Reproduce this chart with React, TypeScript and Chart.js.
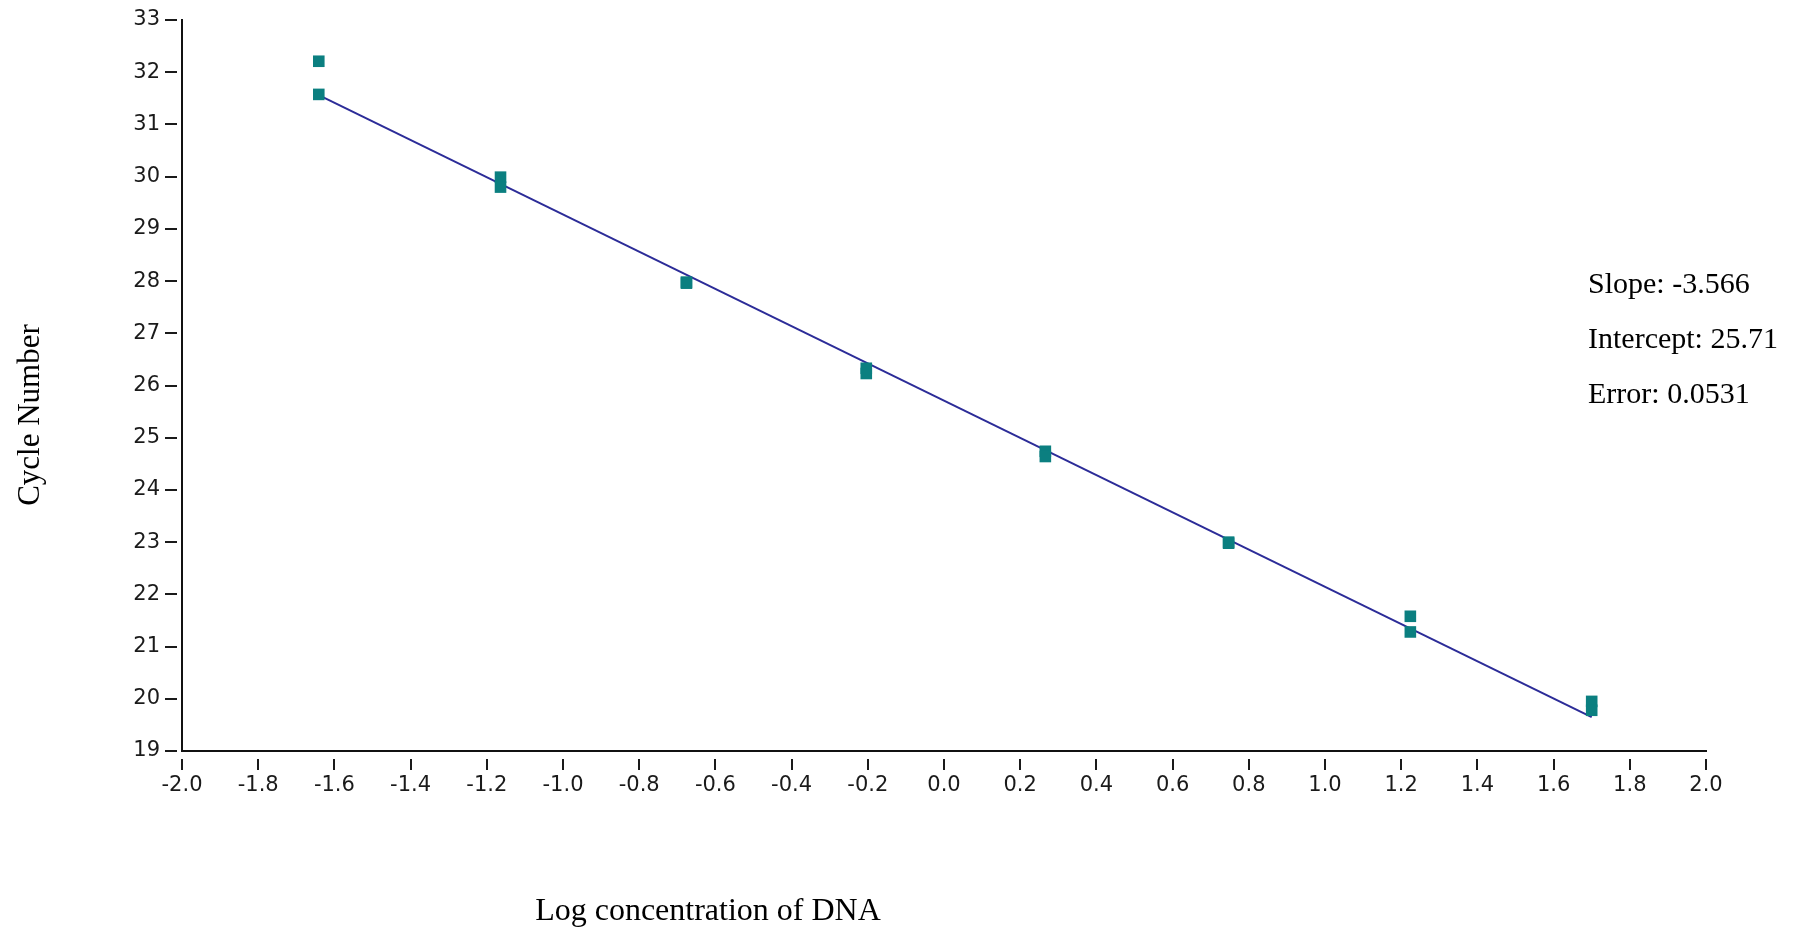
import React, { useEffect, useRef } from "react";
import { Chart, registerables } from "chart.js";

Chart.register(...registerables);

// Log concentration of DNA (x) and cycle number (y) for each replicate
const logConc: number[] = [
  -1.641, -1.641, -1.164, -1.164, -0.676, -0.676, -0.204, -0.204,
  0.266, 0.266, 0.747, 0.747, 1.224, 1.224, 1.7, 1.7,
];
const cycleNumber: number[] = [
  32.21, 31.575, 29.99, 29.8, 27.98, 27.96, 26.33, 26.23,
  24.74, 24.64, 23.0, 22.98, 21.58, 21.28, 19.95, 19.78,
];
// Regression line end points
const fitX: number[] = [-1.641, 1.7];
const fitY: number[] = [31.56, 19.65];

const xMin = -2.0;
const xMax = 2.0;
const xStep = 0.2;
const yMin = 19;
const yMax = 33;
const yStep = 1;

const statLines: string[] = ["Slope: -3.566", "Intercept: 25.71", "Error: 0.0531"];
const xTitle = "Log concentration of DNA";
const yTitle = "Cycle Number";

const W = 1807;
const H = 929;

const overlayPlugin = {
  id: "overlay",
  afterDraw(chart: any) {
    const { ctx, chartArea } = chart;
    const xs = chart.scales.x;
    const ys = chart.scales.y;
    ctx.save();
    // tick marks (separated from the axes)
    ctx.strokeStyle = "#1a1a1a";
    ctx.lineWidth = 2;
    ctx.beginPath();
    ys.ticks.forEach((t: any) => {
      const py = Math.round(ys.getPixelForValue(t.value));
      ctx.moveTo(chartArea.left - 17, py);
      ctx.lineTo(chartArea.left - 5, py);
    });
    xs.ticks.forEach((t: any) => {
      const px = Math.round(xs.getPixelForValue(t.value));
      ctx.moveTo(px, chartArea.bottom + 8);
      ctx.lineTo(px, chartArea.bottom + 19);
    });
    ctx.stroke();

    // statistics text
    ctx.fillStyle = "#000";
    ctx.font = '30px "Liberation Serif", "Times New Roman", serif';
    ctx.textAlign = "left";
    ctx.textBaseline = "alphabetic";
    statLines.forEach((s, i) => {
      ctx.fillText(s, 1588, 293 + i * 55);
    });

    // x axis title
    ctx.font = '32px "Liberation Serif", "Times New Roman", serif';
    ctx.textAlign = "center";
    ctx.fillText(xTitle, 708, 920);

    // y axis title
    ctx.font = '31px "Liberation Serif", "Times New Roman", serif';
    ctx.translate(31, 415);
    ctx.rotate(-Math.PI / 2);
    ctx.textBaseline = "middle";
    ctx.fillText(yTitle, 0, 0);
    ctx.restore();
  },
};

export default function App() {
  const ref = useRef<HTMLCanvasElement | null>(null);

  useEffect(() => {
    if (!ref.current) return;
    const points = logConc.map((x, i) => ({ x, y: cycleNumber[i] }));
    const line = fitX.map((x, i) => ({ x, y: fitY[i] }));
    const chart = new Chart(ref.current, {
      type: "scatter",
      data: {
        datasets: [
          {
            label: "Samples",
            data: points,
            pointStyle: "rect",
            pointRadius: 8.2,
            pointHoverRadius: 8.2,
            backgroundColor: "#0b7f80",
            borderColor: "#0b7f80",
            borderWidth: 0,
            showLine: false,
          },
          {
            label: "Fit",
            data: line,
            showLine: true,
            pointRadius: 0,
            borderColor: "#2c2c98",
            borderWidth: 2,
            fill: false,
          },
        ],
      },
      options: {
        responsive: false,
        animation: false,
        events: [],
        layout: { padding: { left: 0, top: 20, right: 101, bottom: 0 } },
        plugins: {
          legend: { display: false },
          tooltip: { enabled: false },
          title: { display: false },
        },
        scales: {
          x: {
            type: "linear",
            min: xMin,
            max: xMax,
            grid: { display: false, drawTicks: false },
            border: { display: true, color: "#111", width: 2 },
            ticks: {
              stepSize: xStep,
              autoSkip: false,
              maxRotation: 0,
              padding: 22,
              color: "#1a1a1a",
              font: { family: '"DejaVu Sans", sans-serif', size: 21 },
              callback: (v: any) => {
                const n = Number(v);
                return Math.abs(n) < 1e-9 ? "0.0" : n.toFixed(1);
              },
            },
            afterFit: (s: any) => {
              s.height = 178;
              s.paddingLeft = 0;
              s.paddingRight = 0;
            },
          },
          y: {
            type: "linear",
            min: yMin,
            max: yMax,
            grid: { display: false, drawTicks: false },
            border: { display: true, color: "#111", width: 2 },
            ticks: {
              stepSize: yStep,
              autoSkip: false,
              padding: 22,
              color: "#1a1a1a",
              font: { family: '"DejaVu Sans", sans-serif', size: 21 },
            },
            afterFit: (s: any) => {
              s.width = 182;
              s.paddingTop = 0;
              s.paddingBottom = 0;
            },
          },
        },
      },
      plugins: [overlayPlugin],
    });
    return () => chart.destroy();
  }, []);

  return (
    <div
      style={{
        position: "fixed",
        left: 0,
        top: 0,
        width: W,
        height: H,
        background: "#fff",
      }}
    >
      <canvas ref={ref} width={W} height={H} />
    </div>
  );
}
